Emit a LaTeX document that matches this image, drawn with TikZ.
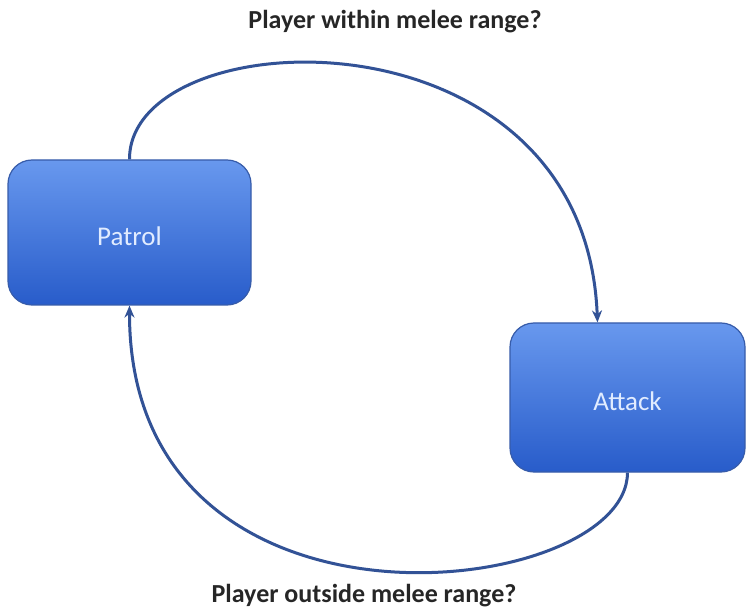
\documentclass[tikz,border=0pt]{standalone}
\usepackage{fontspec}
\setmainfont{Carlito}
\usetikzlibrary{arrows.meta,calc}
\definecolor{boxtop}{RGB}{104,152,238}
\definecolor{boxbot}{RGB}{40,92,202}
\definecolor{boxedge}{RGB}{55,92,170}
\definecolor{boxtext}{RGB}{225,236,255}
\definecolor{linkc}{RGB}{50,82,150}
\tikzset{
  statebox/.style={rounded corners=24pt, draw=boxedge, line width=1.2pt,
    top color=boxtop, bottom color=boxbot, text=boxtext,
    font=\fontsize{27}{30}\selectfont, text height=26pt, text depth=0pt,
    inner sep=0pt},
  link/.style={draw=linkc, line width=3pt, -{Stealth[length=12pt,width=10pt]}},
  cond/.style={font=\bfseries\fontsize{26}{30}\selectfont, text=black!85, anchor=base}
}
\begin{document}
\begin{tikzpicture}[x=1pt,y=-1pt]
\useasboundingbox[fill=white] (0,0) rectangle (747,612);
\node[statebox, minimum width=243pt, minimum height=145pt] (patrol) at (129.5,232.5) {Patrol};
\node[statebox, minimum width=235pt, minimum height=149pt] (attack) at (627.5,397.5) {Attack};
\node[cond] (top) at (395,29) {Player within melee range?};
\node[cond] (bot) at (364,602) {Player outside melee range?};
\draw[link] (patrol.north) .. controls (129,18) and (585,0) .. ([xshift=-30pt]attack.north);
\draw[link] (attack.south) .. controls (627,600) and (129,660) .. (patrol.south);
\end{tikzpicture}
\end{document}
